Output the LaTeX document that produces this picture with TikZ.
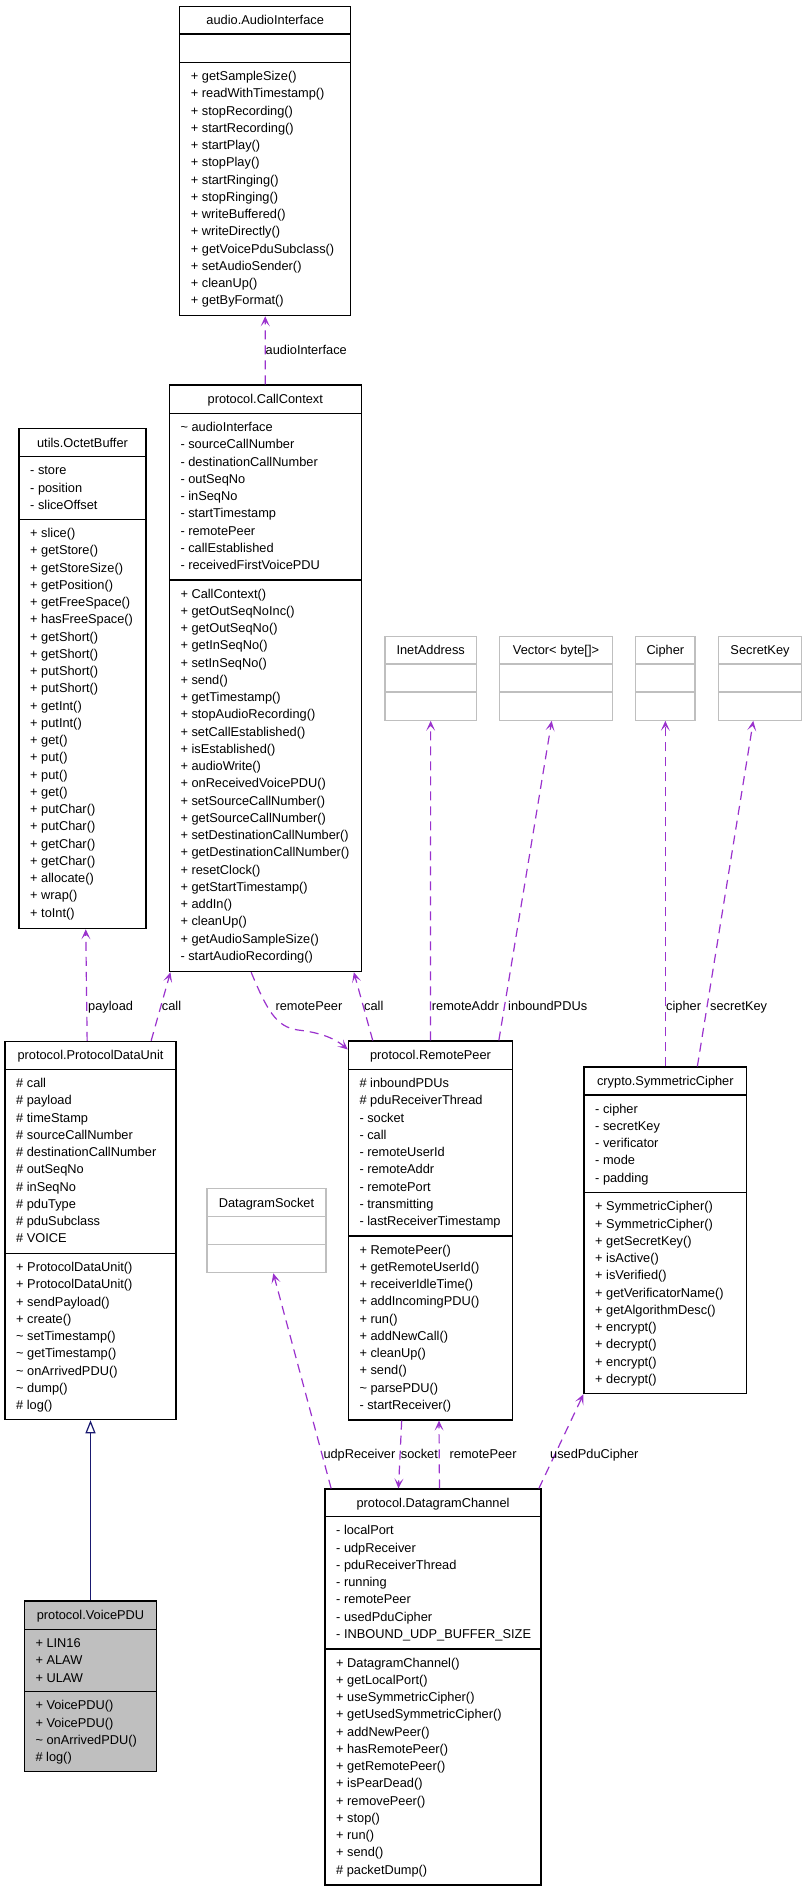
\documentclass[tikz,border=0pt]{standalone}
\usepackage{fontspec}
\setmainfont{Liberation Sans}
\usetikzlibrary{arrows.meta,fit,calc}
\definecolor{usecol}{HTML}{9A32CD}
\definecolor{inhcol}{HTML}{191970}
\definecolor{greyclr}{HTML}{BFBFBF}
\tikzset{
  clsbox/.style={draw=black, line width=1.1pt},
  greyclass/.style={draw=greyclr, line width=1.1pt},
  shadedclass/.style={draw=black, line width=1.1pt, fill=greyclr},
  txt/.style={font=\fontsize{12.8pt}{15pt}\selectfont, inner sep=0pt, anchor=base west},
  ttltxt/.style={txt, anchor=base},
  usedep/.style={draw=usecol, line width=1.2pt, dash pattern=on 9pt off 6pt,
     -{Stealth[length=10pt,width=9pt,inset=5pt]}},
  inherit/.style={draw=inhcol, line width=1.2pt, -{Triangle[open,length=13pt,width=10pt]}},
}
% #1 name, #2 left, #3 right, #4 top, #5 sep1, #6 sep2, #7 bottom, #8 style
\newcommand\umlbox[8]{%
  \node[fit={(#2,#4)(#3,#7)}, inner sep=0pt, #8] (#1) {};
  \draw[#8, fill=none] (#2,#5) -- (#3,#5) (#2,#6) -- (#3,#6);
}
% #1 name prefix, #2 x, #3 first baseline y, #4 list
\newcommand\rows[4]{%
  \foreach \rowtext [count=\rowidx] in {#4} {%
    \node[txt] (#1-\rowidx) at (#2,{#3+(\rowidx-1)*17.25}) {\rowtext};}%
}
\newcommand\ttl[4]{\node[ttltxt] (#1-t) at (#2,#3) {#4};}
\begin{document}
\begin{tikzpicture}[x=1pt,y=-1pt]
\useasboundingbox (0,0) rectangle (807,1891);

% audio.AudioInterface
\umlbox{ai}{179.7}{350.7}{6.3}{34}{62.3}{315.7}{clsbox}
\ttl{ai}{265.2}{24.6}{audio.AudioInterface}
\rows{aim}{190.7}{80.5}{+ getSampleSize(), + readWithTimestamp(), + stopRecording(), + startRecording(), + startPlay(), + stopPlay(), + startRinging(), + stopRinging(), + writeBuffered(), + writeDirectly(), + getVoicePduSubclass(), + setAudioSender(), + cleanUp(), + getByFormat()}

% protocol.CallContext
\umlbox{cc}{169.3}{361.3}{385}{413.3}{580}{971.7}{clsbox}
\ttl{cc}{265.3}{403.3}{protocol.CallContext}
\rows{cca}{180.3}{431.5}{\textasciitilde{} audioInterface, - sourceCallNumber, - destinationCallNumber, - outSeqNo, - inSeqNo, - startTimestamp, - remotePeer, - callEstablished, - receivedFirstVoicePDU}
\rows{ccm}{180.3}{598.2}{+ CallContext(), + getOutSeqNoInc(), + getOutSeqNo(), + getInSeqNo(), + setInSeqNo(), + send(), + getTimestamp(), + stopAudioRecording(), + setCallEstablished(), + isEstablished(), + audioWrite(), + onReceivedVoicePDU(), + setSourceCallNumber(), + getSourceCallNumber(), + setDestinationCallNumber(), + getDestinationCallNumber(), + resetClock(), + getStartTimestamp(), + addIn(), + cleanUp(), + getAudioSampleSize(), - startAudioRecording()}

% utils.OctetBuffer
\umlbox{ob}{19}{146}{428.7}{456.7}{519.3}{928.7}{clsbox}
\ttl{ob}{82.5}{447}{utils.OctetBuffer}
\rows{oba}{30}{474.9}{- store, - position, - sliceOffset}
\rows{obm}{30}{537.5}{+ slice(), + getStore(), + getStoreSize(), + getPosition(), + getFreeSpace(), + hasFreeSpace(), + getShort(), + getShort(), + putShort(), + putShort(), + getInt(), + putInt(), + get(), + put(), + put(), + get(), + putChar(), + putChar(), + getChar(), + getChar(), + allocate(), + wrap(), + toInt()}

% protocol.ProtocolDataUnit
\umlbox{pdu}{5}{176}{1041.3}{1069.3}{1253.3}{1419.7}{clsbox}
\ttl{pdu}{90.5}{1059.6}{protocol.ProtocolDataUnit}
\rows{pdua}{16}{1087.5}{\# call, \# payload, \# timeStamp, \# sourceCallNumber, \# destinationCallNumber, \# outSeqNo, \# inSeqNo, \# pduType, \# pduSubclass, \# VOICE}
\rows{pdum}{16}{1271.5}{+ ProtocolDataUnit(), + ProtocolDataUnit(), + sendPayload(), + create(), \textasciitilde{} setTimestamp(), \textasciitilde{} getTimestamp(), \textasciitilde{} onArrivedPDU(), \textasciitilde{} dump(), \# log()}

% protocol.VoicePDU
\umlbox{vp}{24.3}{156.7}{1601}{1629.3}{1691.7}{1771.7}{shadedclass}
\ttl{vp}{90.5}{1619.3}{protocol.VoicePDU}
\rows{vpa}{35.3}{1647.5}{+ LIN16, + ALAW, + ULAW}
\rows{vpm}{35.3}{1709.9}{+ VoicePDU(), + VoicePDU(), \textasciitilde{} onArrivedPDU(), \# log()}

% protocol.RemotePeer
\umlbox{rp}{348.3}{512.7}{1041}{1069.3}{1236}{1420}{clsbox}
\ttl{rp}{430.5}{1059.3}{protocol.RemotePeer}
\rows{rpa}{359.3}{1087.5}{\# inboundPDUs, \# pduReceiverThread, - socket, - call, - remoteUserId, - remoteAddr, - remotePort, - transmitting, - lastReceiverTimestamp}
\rows{rpm}{359.3}{1254.2}{+ RemotePeer(), + getRemoteUserId(), + receiverIdleTime(), + addIncomingPDU(), + run(), + addNewCall(), + cleanUp(), + send(), \textasciitilde{} parsePDU(), - startReceiver()}

% DatagramSocket
\umlbox{ds}{207}{326}{1188.7}{1216.7}{1244.7}{1272.7}{greyclass}
\ttl{ds}{266.5}{1207}{DatagramSocket}

% InetAddress, Vector, Cipher, SecretKey
\umlbox{ia}{385}{476.3}{636.3}{664}{692}{720.3}{greyclass}
\ttl{ia}{430.65}{654.6}{InetAddress}
\umlbox{vec}{499.3}{612.7}{636.3}{664}{692}{720.3}{greyclass}
\ttl{vec}{556}{654.6}{Vector< byte[]>}
\umlbox{ci}{635.7}{695}{636.3}{664}{692}{720.3}{greyclass}
\ttl{ci}{665.35}{654.6}{Cipher}
\umlbox{sk}{718.3}{801.7}{636.3}{664}{692}{720.3}{greyclass}
\ttl{sk}{760}{654.6}{SecretKey}

% crypto.SymmetricCipher
\umlbox{sc}{584}{746.7}{1067}{1095}{1192.7}{1393.7}{clsbox}
\ttl{sc}{665.35}{1085.3}{crypto.SymmetricCipher}
\rows{sca}{595}{1113.2}{- cipher, - secretKey, - verificator, - mode, - padding}
\rows{scm}{595}{1210.9}{+ SymmetricCipher(), + SymmetricCipher(), + getSecretKey(), + isActive(), + isVerified(), + getVerificatorName(), + getAlgorithmDesc(), + encrypt(), + decrypt(), + encrypt(), + decrypt()}

% protocol.DatagramChannel
\umlbox{dc}{325}{541}{1489}{1516.7}{1649}{1885}{clsbox}
\ttl{dc}{433}{1507.3}{protocol.DatagramChannel}
\rows{dca}{336}{1534.9}{- localPort, - udpReceiver, - pduReceiverThread, - running, - remotePeer, - usedPduCipher, - INBOUND\_UDP\_BUFFER\_SIZE}
\rows{dcm}{336}{1667.2}{+ DatagramChannel(), + getLocalPort(), + useSymmetricCipher(), + getUsedSymmetricCipher(), + addNewPeer(), + hasRemotePeer(), + getRemotePeer(), + isPearDead(), + removePeer(), + stop(), + run(), + send(), \# packetDump()}

% ---------- connectors ----------
\draw[usedep] (cc.north) -- (ai.south);
\node[txt] (l-ai) at (265.5,354.2) {audioInterface};

\draw[usedep] ([xshift=82.7pt]pdu.north west) -- ([xshift=67.3pt]ob.south west);
\node[txt] (l-pay) at (88,1010) {payload};

\draw[usedep] ([xshift=146.7pt]pdu.north west) -- ([xshift=1.7pt]cc.south west);
\node[txt] (l-call1) at (161.7,1010) {call};

\draw[usedep] ([xshift=82.4pt]cc.south west) .. controls (267,1010) and (276,1027) .. (298,1030)
   .. controls (315,1032) and (332,1036) .. ([yshift=-9pt]rp.north west);
\node[txt] (l-rp1) at (275.3,1010) {remotePeer};

\draw[usedep] ([xshift=25pt]rp.north west) -- ([xshift=-8pt]cc.south east);
\node[txt] (l-call2) at (364,1010) {call};

\draw[usedep] (rp.north) -- (ia.south);
\node[txt] (l-ra) at (431.7,1010) {remoteAddr};

\draw[usedep] ([xshift=-14.4pt]rp.north east) -- ([xshift=-4.3pt]vec.south);
\node[txt] (l-ib) at (508,1010) {inboundPDUs};

\draw[usedep] (sc.north) -- (ci.south);
\node[txt] (l-ci) at (666,1010) {cipher};

\draw[usedep] ([xshift=32pt]sc.north) -- ([xshift=-6.7pt]sk.south);
\node[txt] (l-sk) at (710,1010) {secretKey};

\draw[usedep] ([xshift=6.7pt]dc.north west) -- ([xshift=6.8pt]ds.south);
\node[txt] (l-udp) at (323.3,1458) {udpReceiver};

\draw[usedep] ([xshift=-28.8pt]rp.south) -- ([xshift=74pt]dc.north west);
\node[txt] (l-sock) at (400.7,1458) {socket};

\draw[usedep] ([xshift=115pt]dc.north west) -- ([xshift=8.5pt]rp.south);
\node[txt] (l-rp2) at (449.5,1458) {remotePeer};

\draw[usedep] ([xshift=-2.7pt]dc.north east) -- (sc.south west);
\node[txt] (l-upc) at (550,1458) {usedPduCipher};

\draw[inherit] (vp.north) -- (pdu.south);
\end{tikzpicture}
\end{document}
